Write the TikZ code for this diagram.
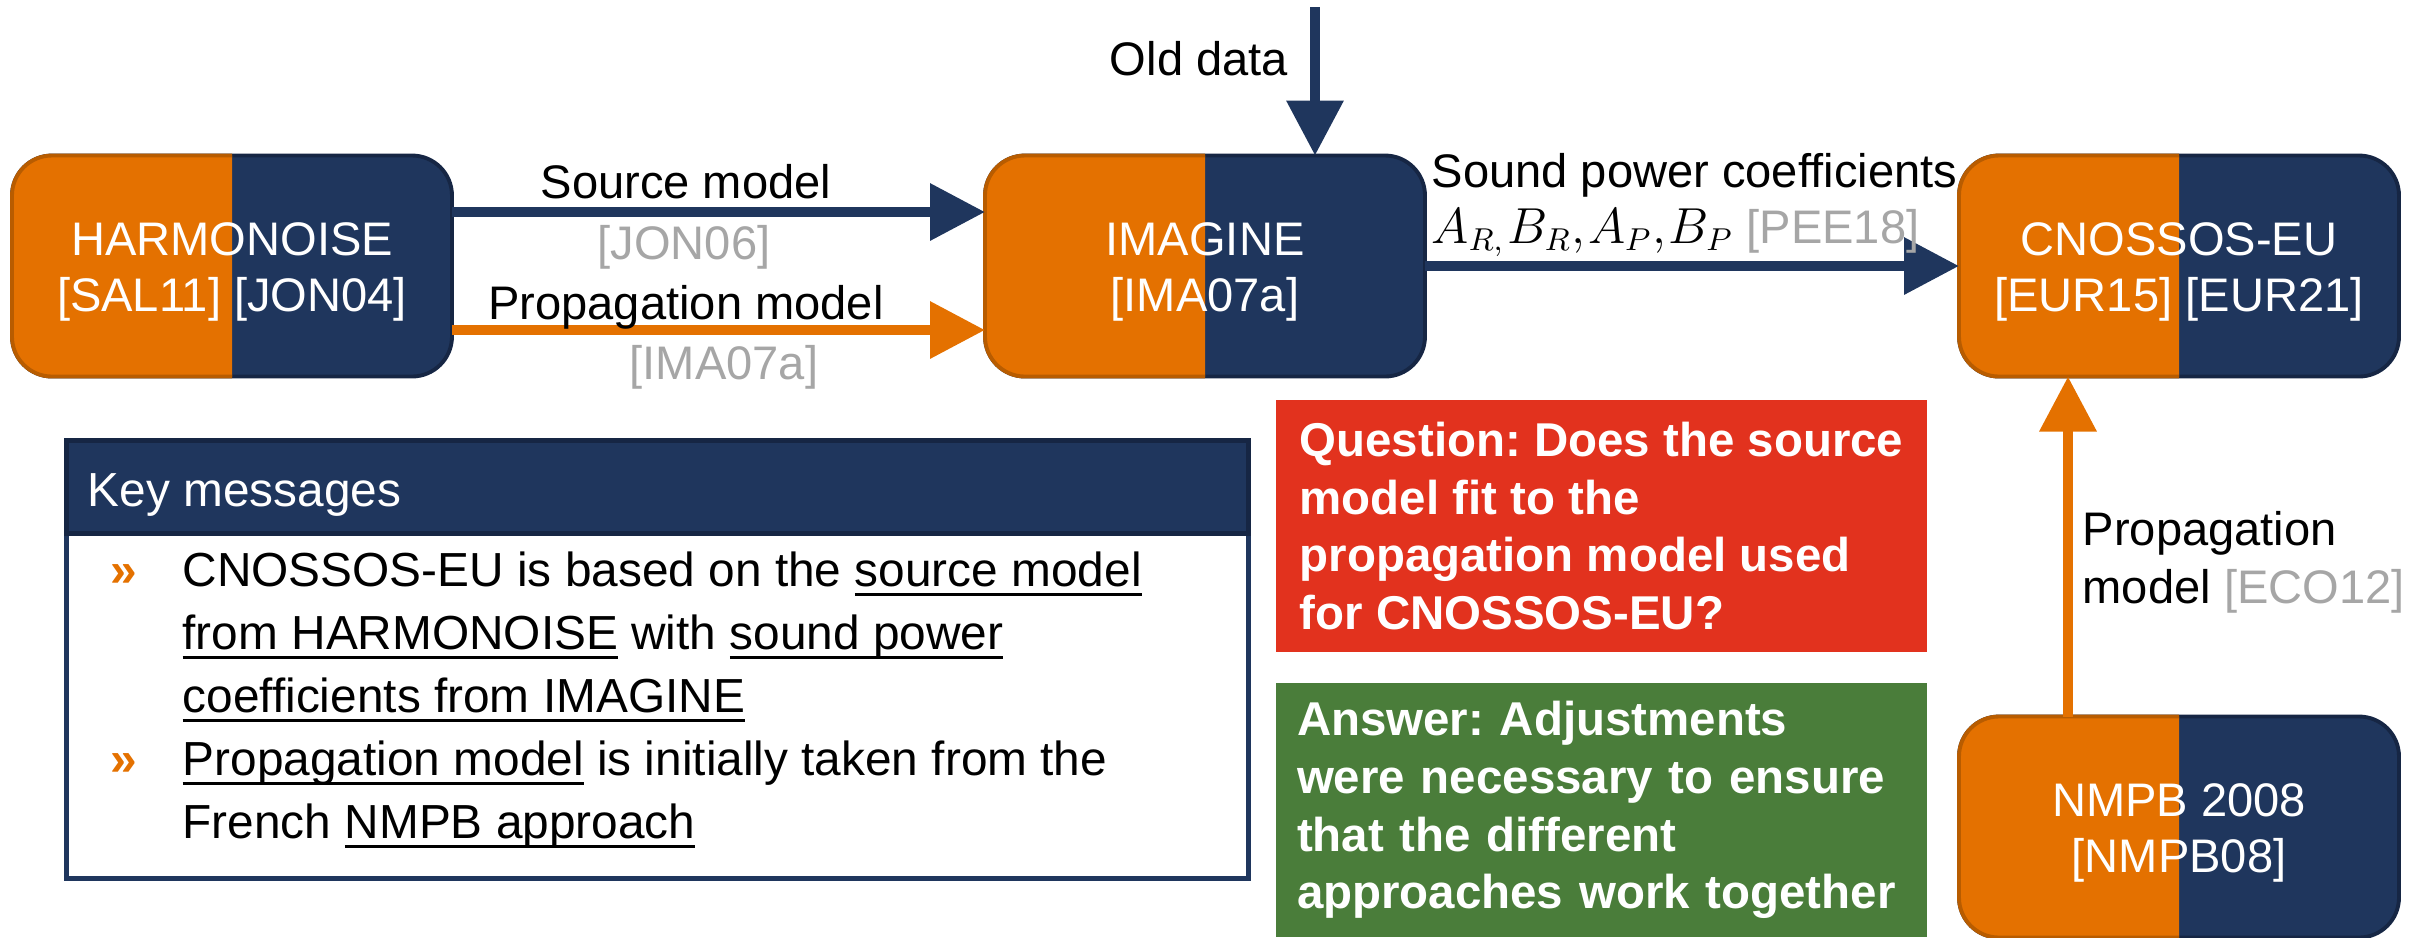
\documentclass[tikz,border=0pt]{standalone}
\usepackage{fontspec}
\setmainfont{Liberation Sans}
\usetikzlibrary{arrows.meta}
\frenchspacing

\definecolor{modelorange}{RGB}{228,113,0}
\definecolor{orangeedge}{RGB}{184,92,0}
\definecolor{modelnavy}{RGB}{31,54,93}
\definecolor{navyedge}{RGB}{22,38,68}
\definecolor{refgray}{RGB}{166,166,166}
\definecolor{questionred}{RGB}{226,50,30}
\definecolor{answergreen}{RGB}{74,125,58}

% underline close to the baseline
\newcommand{\keyul}[1]{\setbox0=\hbox{#1}\rlap{\rule[-0.2em]{\wd0}{0.06em}}\box0\relax}

% box with orange left half and navy right half
\newcommand{\modelnode}[3]{%
  \node[modelbox] (#1) at (#2) {};
  \begin{scope}
    \clip ([xshift=-0.1cm,yshift=-0.1cm]#1.south west) rectangle ([yshift=0.1cm]#1.north);
    \draw[draw=orangeedge,fill=modelorange,line width=1.1pt,rounded corners=0.4cm] (#1.south west) rectangle (#1.north east);
  \end{scope}
  \node[modeltext] (#1text) at ([yshift=-0.06cm]#1) {#3};
}

\begin{document}
\begin{tikzpicture}[
  modelbox/.style={draw=navyedge,fill=modelnavy,line width=1.1pt,rounded corners=0.4cm,minimum width=4.4cm,minimum height=2.21cm,inner sep=0pt,outer sep=0pt},
  modeltext/.style={text=white,align=center,inner sep=0pt,font=\fontsize{13.4}{15.9}\selectfont},
  navyarrow/.style={draw=modelnavy,line width=0.1cm,-{Triangle[length=0.55cm,width=0.55cm]}},
  orangearrow/.style={draw=modelorange,line width=0.1cm,-{Triangle[length=0.55cm,width=0.55cm]}},
  arrowlabel/.style={inner sep=0pt,anchor=base,font=\fontsize{13.4}{16}\selectfont},
  reflabel/.style={arrowlabel,text=refgray},
  qabox/.style={minimum width=6.51cm,minimum height=2.52cm,inner sep=0pt,align=left,text=white,font=\bfseries\fontsize{13.5}{16.4}\selectfont},
  keybox/.style={draw=modelnavy,line width=0.05cm,minimum width=11.82cm,minimum height=4.38cm,inner sep=0pt},
  keyhead/.style={draw=navyedge,fill=modelnavy,line width=0.05cm,minimum width=11.82cm,minimum height=0.93cm,inner sep=0pt},
  keyline/.style={inner sep=0pt,anchor=base west,font=\fontsize{13.6}{18}\selectfont},
  keybullet/.style={keyline,text=modelorange,font=\bfseries\fontsize{13.6}{18}\selectfont}
]
\useasboundingbox (0,0) rectangle (24.27,-9.37);

\modelnode{harmonoise}{2.32,-2.66}{HARMONOISE\\{}[SAL11] [JON04]}
\modelnode{imagine}{12.05,-2.66}{IMAGINE\\{}[IMA07a]}
\modelnode{cnossos}{21.79,-2.66}{CNOSSOS-EU\\{}[EUR15] [EUR21]}
\modelnode{nmpb}{21.79,-8.27}{NMPB 2008\\{}[NMPB08]}

\coordinate (oldsrc) at (13.15,-0.07);
\draw[navyarrow] (oldsrc) -- (oldsrc |- imagine.north);
\node[arrowlabel] (olddata) at (11.99,-0.75) {Old data};

\draw[navyarrow] ([yshift=0.54cm]harmonoise.east) -- ([yshift=0.54cm]imagine.west);
\draw[orangearrow] ([yshift=-0.64cm]harmonoise.east) -- ([yshift=-0.64cm]imagine.west);
\node[arrowlabel] (sourcelabel) at (6.86,-1.98) {Source model};
\node[reflabel] (jonref) at (6.84,-2.59) {[JON06]};
\node[arrowlabel] (proplabel) at (6.86,-3.19) {Propagation model};
\node[reflabel] (imaref) at (7.24,-3.79) {[IMA07a]};

\draw[navyarrow] (imagine.east) -- (cnossos.west);
\node[arrowlabel,anchor=base west] (soundlabel) at (14.31,-1.87) {Sound power coefficients};
\node[arrowlabel,anchor=base west] (coeflabel) at (14.31,-2.43) {$A_{R,}\mkern1mu B_R{,}\mkern1mu A_P{,}\mkern1mu B_P$ {\color{refgray}[PEE18]}};

\draw[orangearrow] ([xshift=-1.11cm]nmpb.north) -- ([xshift=-1.11cm]cnossos.south);
\node[arrowlabel,anchor=west,align=left,font=\fontsize{13.4}{16.5}\selectfont] (ecolabel) at (20.82,-5.62) {Propagation\\model {\color{refgray}[ECO12]}};

\node[qabox,fill=questionred] (question) at (16.015,-5.26) {Question: Does the source\\model fit to the\\propagation model used\\for CNOSSOS-EU?};
\node[qabox,fill=answergreen,minimum height=2.54cm,text width=6.09cm,inner xsep=0.21cm] (answer) at (16.015,-8.10) {Answer: Adjustments\\were necessary to ensure\\that the different\\approaches work together};

\node[keybox] (keybox) at (6.57,-6.59) {};
\node[keyhead] (keyhead) at (6.57,-4.865) {};
\node[keyline,text=white] (keytitle) at (0.87,-5.06) {Key messages};
\node[keybullet] (bullet1) at (1.10,-5.86) {»};
\node[keybullet] (bullet2) at (1.10,-7.75) {»};
\node[keyline] (line1) at (1.82,-5.86) {CNOSSOS-EU is based on the \keyul{source model}};
\node[keyline] (line2) at (1.82,-6.49) {\keyul{from HARMONOISE} with \keyul{sound power}};
\node[keyline] (line3) at (1.82,-7.12) {\keyul{coefficients from IMAGINE}};
\node[keyline] (line4) at (1.82,-7.75) {\keyul{Propagation model} is initially taken from the};
\node[keyline] (line5) at (1.82,-8.38) {French \keyul{NMPB approach}};
\end{tikzpicture}
\end{document}
